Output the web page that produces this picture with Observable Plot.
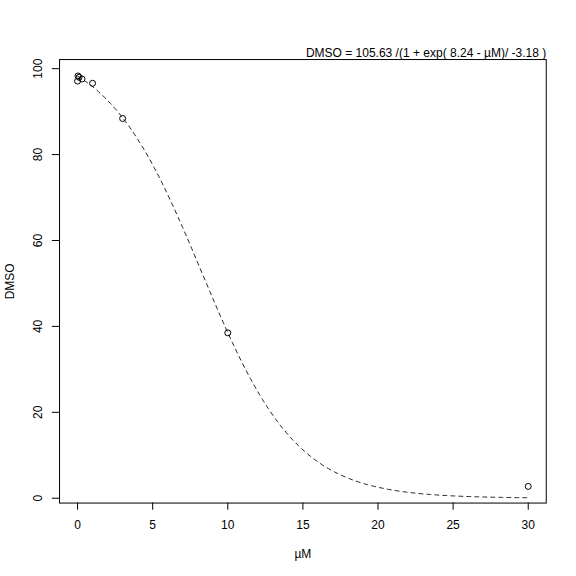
<!DOCTYPE html>
<html>
<head>
<meta charset="utf-8">
<script src="https://cdn.jsdelivr.net/npm/d3@7"></script>
<script src="https://cdn.jsdelivr.net/npm/@observablehq/plot@0.6"></script>
<style>
  html, body { margin: 0; padding: 0; background: #fff; }
  svg { display: block; }
</style>
</head>
<body>
<div id="chart"></div>
<script>
// Observed doses (µM) and responses
const doses = [0, 0.03, 0.1, 0.3, 1, 3, 10, 30];
const responses = [97.1, 98.3, 98.0, 97.6, 96.6, 88.4, 38.5, 2.75];
// Fitted logistic parameters shown in the title
const fitTop = 105.63;
const fitMid = 8.24;
const fitSlope = -3.18;
// Axis ticks
const xTicks = [0, 5, 10, 15, 20, 25, 30];
const yTicks = [0, 20, 40, 60, 80, 100];

const points = doses.map((x, i) => ({x, y: responses[i]}));
const curve = d3.range(0, 30.0001, 0.1).map(x => ({x, y: fitTop / (1 + Math.exp((fitMid - x) / fitSlope))}));

const font = "'Liberation Sans', Arial, Helvetica, sans-serif";
const titleText = `DMSO = ${fitTop.toFixed(2)} /(1 + exp( ${fitMid.toFixed(2)} - µM)/ ${fitSlope.toFixed(2)} )`;

const chart = Plot.plot({
  width: 576,
  height: 576,
  marginLeft: 59.04,
  marginRight: 30.24,
  marginTop: 59.04,
  marginBottom: 73.44,
  style: {fontFamily: font, fontSize: "12px", background: "#fff", color: "#000"},
  x: {domain: [-1.2, 31.2], label: null},
  y: {domain: [-1.124, 102.124], label: null},
  marks: [
    Plot.frame({stroke: "#000", strokeWidth: 1}),
    Plot.axisX(xTicks, {tickSize: 7.2, tickPadding: 10.2, fontSize: 12, label: null, stroke: "#000"}),
    Plot.axisY(yTicks, {tickSize: 7.2, tickFormat: () => "", label: null, stroke: "#000"}),
    Plot.text(yTicks, {y: d => d, text: d => String(d), frameAnchor: "left", dx: -17.3, rotate: -90,
      textAnchor: "middle", lineAnchor: "bottom", fontSize: 12, fill: "#000"}),
    Plot.line(curve, {x: "x", y: "y", stroke: "#222", strokeWidth: 1, strokeDasharray: "4,4"}),
    Plot.dot(points, {x: "x", y: "y", r: 3, stroke: "#000", strokeWidth: 1, fill: "none"}),
    Plot.text([titleText], {text: d => d, frameAnchor: "top-right", dy: -3, textAnchor: "end",
      lineAnchor: "bottom", fontSize: 12, fill: "#000"}),
    Plot.text(["µM"], {text: d => d, frameAnchor: "bottom", dy: 54.7, textAnchor: "middle",
      lineAnchor: "bottom", fontSize: 12, fill: "#000"}),
    Plot.text(["DMSO"], {text: d => d, frameAnchor: "left", dx: -46, rotate: -90, textAnchor: "middle",
      lineAnchor: "bottom", fontSize: 12, fill: "#000"})
  ]
});
document.getElementById("chart").appendChild(chart);
</script>
</body>
</html>
